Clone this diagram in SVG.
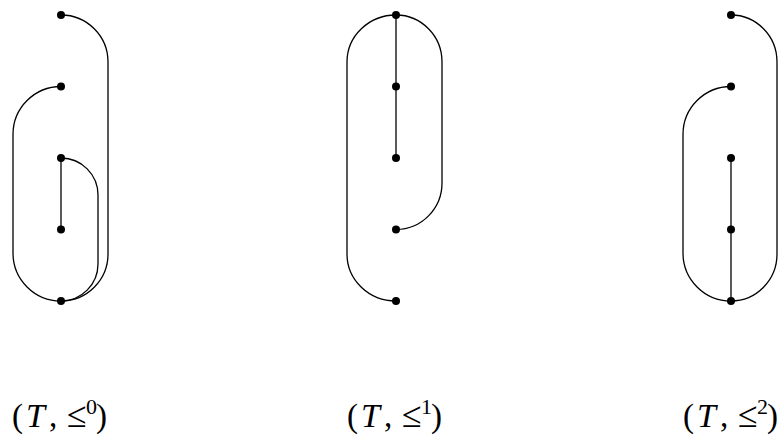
<svg xmlns="http://www.w3.org/2000/svg" width="778" height="436" viewBox="0 0 778 436">
<style>
.e{fill:none;stroke:#000;stroke-width:1.3}
.n{fill:#000}
.t{font-family:"Liberation Serif",serif;font-size:33px;fill:#000}
.i{font-style:italic;font-size:34px}
.l{font-size:36px}
.s{font-size:22px}
</style>
<rect width="778" height="436" fill="#fff"/>
<g id="connectors">
<path class="e" d="M61,15 A47,47 0 0 1 108,62 V254 A47,47 0 0 1 61,301"/>
<path class="e" d="M61,86.5 A48,48 0 0 0 13,134.5 V253 A48,48 0 0 0 61,301"/>
<path class="e" d="M61,158 A37,37 0 0 1 98,195 V264 A37,37 0 0 1 61,301"/>
<path class="e" d="M61,158 V229.5"/>
<path class="e" d="M396,15 A49,47 0 0 0 347,62 V254 A49,47 0 0 0 396,301"/>
<path class="e" d="M396,15 A46,47 0 0 1 442,62 V183 A46,46.5 0 0 1 396,229.5"/>
<path class="e" d="M396,15 V158"/>
<path class="e" d="M731,15 A46,47 0 0 1 777,62 V254 A46,47 0 0 1 731,301"/>
<path class="e" d="M731,86.5 A48,48 0 0 0 683,134.5 V253 A48,48 0 0 0 731,301"/>
<path class="e" d="M731,158 V301"/>
</g>
<g id="p0">
<circle id="a1" class="n" cx="61" cy="15" r="4"/>
<circle id="a2" class="n" cx="61" cy="86.5" r="4"/>
<circle id="a3" class="n" cx="61" cy="158" r="4"/>
<circle id="a4" class="n" cx="61" cy="229.5" r="4"/>
<circle id="a5" class="n" cx="61" cy="301" r="4"/>
</g>
<g id="p1">
<circle id="b1" class="n" cx="396" cy="15" r="4"/>
<circle id="b2" class="n" cx="396" cy="86.5" r="4"/>
<circle id="b3" class="n" cx="396" cy="158" r="4"/>
<circle id="b4" class="n" cx="396" cy="229.5" r="4"/>
<circle id="b5" class="n" cx="396" cy="301" r="4"/>
</g>
<g id="p2">
<circle id="c1" class="n" cx="731" cy="15" r="4"/>
<circle id="c2" class="n" cx="731" cy="86.5" r="4"/>
<circle id="c3" class="n" cx="731" cy="158" r="4"/>
<circle id="c4" class="n" cx="731" cy="229.5" r="4"/>
<circle id="c5" class="n" cx="731" cy="301" r="4"/>
</g>
<g id="labels">
<text class="t" y="427"><tspan x="12">(</tspan><tspan class="i" x="26">T</tspan><tspan x="49">,</tspan><tspan class="l" x="67">≤</tspan><tspan class="s" x="86" y="414">0</tspan><tspan x="96" y="427">)</tspan></text>
<text class="t" y="427"><tspan x="347">(</tspan><tspan class="i" x="361">T</tspan><tspan x="384">,</tspan><tspan class="l" x="402">≤</tspan><tspan class="s" x="421" y="414">1</tspan><tspan x="431" y="427">)</tspan></text>
<text class="t" y="427"><tspan x="683">(</tspan><tspan class="i" x="697">T</tspan><tspan x="720">,</tspan><tspan class="l" x="738">≤</tspan><tspan class="s" x="757" y="414">2</tspan><tspan x="767" y="427">)</tspan></text>
</g>
</svg>
